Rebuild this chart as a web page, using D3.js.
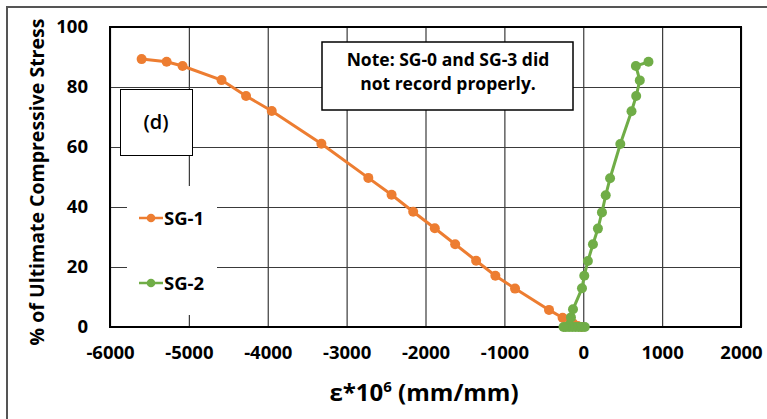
<html>
	<head>
		<title>strain vs stress</title>
		<script src="https://d3js.org/d3.v7.min.js"></script>
		<style>
			body{margin:0;background:#fff;}
			text{font-family:"Open Sans",sans-serif;fill:#000;}
			.tick text{font-size:18.5px;font-weight:700;}
			.grid line{stroke:#3a3a3a;stroke-width:1.2;}
			.axis-title{font-weight:700;}
		</style>
	</head>
	<body>
		<script>
		//chart data
		const xTicks = [-6000,-5000,-4000,-3000,-2000,-1000,0,1000,2000];
		const yTicks = [0,20,40,60,80,100];

		const sg1X = [-5599,-5282,-5080,-4586,-4275,-3949,-3320,-2725,-2430,-2156,-1882,-1624,-1358,-1114,-865,-434,-262,-130,-70,-20];
		const sg1Y = [89.3,88.4,87,82.3,77,72,61.1,49.7,44.1,38.4,32.9,27.6,22.1,17.1,12.8,5.7,3.1,1.2,0.3,0];

		const sg2X = [20,-20,-60,-100,-140,-180,-220,-250,-156,-130,-16,13,59,123,186,237,285,340,470,612,671,717,667,827];
		const sg2Y = [0,0,0,0,0,0,0,0,3.2,5.9,12.9,17.1,22,27.6,32.8,38.2,43.9,49.6,61,71.9,77,82.2,87,88.4];

		const seriesNames = ["SG-1","SG-2"];
		const colors = ["#ED7D31","#70AD47"];

		const w = 767;
		const h = 419;
		const plot = {left:110,right:741,top:27,bottom:327};

		let svg = d3.select("body").append("svg")
			.attr("width",w)
			.attr("height",h);

		//outer frame (runs off the picture at right and bottom)
		svg.append("rect")
			.attr("x",7).attr("y",7)
			.attr("width",800).attr("height",500)
			.attr("fill","#fff")
			.attr("stroke","#555")
			.attr("stroke-width",2);

		let xScale = d3.scaleLinear()
			.domain([-6000,2000])
			.range([plot.left,plot.right]);

		let yScale = d3.scaleLinear()
			.domain([0,100])
			.range([plot.bottom,plot.top]);

		//gridlines
		svg.append("g")
			.attr("class","grid")
			.attr("transform","translate(0,"+plot.bottom+")")
			.call(d3.axisBottom(xScale).tickValues(xTicks).tickSize(-(plot.bottom-plot.top)).tickFormat(""))
			.call(g=>g.select(".domain").remove());

		svg.append("g")
			.attr("class","grid")
			.attr("transform","translate("+plot.left+",0)")
			.call(d3.axisLeft(yScale).tickValues(yTicks).tickSize(-(plot.right-plot.left)).tickFormat(""))
			.call(g=>g.select(".domain").remove());

		//tick labels (plain hyphen minus, no thousands separator)
		svg.append("g")
			.attr("transform","translate(0,"+plot.bottom+")")
			.call(d3.axisBottom(xScale).tickValues(xTicks).tickSize(0).tickPadding(19).tickFormat(d=>String(d)))
			.call(g=>g.select(".domain").remove());

		svg.append("g")
			.attr("transform","translate("+plot.left+",0)")
			.call(d3.axisLeft(yScale).tickValues(yTicks).tickSize(0).tickPadding(22).tickFormat(d=>String(d)))
			.call(g=>g.select(".domain").remove());

		//plot frame
		svg.append("rect")
			.attr("x",plot.left).attr("y",plot.top)
			.attr("width",plot.right-plot.left)
			.attr("height",plot.bottom-plot.top)
			.attr("fill","none")
			.attr("stroke","#000")
			.attr("stroke-width",2);

		//legend background hides gridlines
		svg.append("rect")
			.attr("x",127).attr("y",186)
			.attr("width",90).attr("height",129)
			.attr("fill","#fff");

		//(d) label box
		svg.append("rect")
			.attr("x",120.5).attr("y",89.5)
			.attr("width",72).attr("height",66)
			.attr("fill","#fff")
			.attr("stroke","#000")
			.attr("stroke-width",1);
		svg.append("text")
			.attr("x",156).attr("y",129)
			.attr("text-anchor","middle")
			.attr("font-size",20)
			.attr("font-weight",600)
			.text("(d)");

		//note box
		svg.append("rect")
			.attr("x",322).attr("y",42)
			.attr("width",251).attr("height",68)
			.attr("fill","#fff")
			.attr("stroke","#000")
			.attr("stroke-width",1.5);
		let note = svg.append("text")
			.attr("text-anchor","middle")
			.attr("font-size",17.5)
			.attr("font-weight",700);
		note.append("tspan").attr("x",448).attr("y",66).text("Note: SG-0 and SG-3 did");
		note.append("tspan").attr("x",448).attr("y",90).text("not record properly.");

		//series
		const series = [
			sg1X.map((d,i)=>({x:d,y:sg1Y[i]})),
			sg2X.map((d,i)=>({x:d,y:sg2Y[i]}))
		];

		const line = d3.line()
			.x(d=>xScale(d.x))
			.y(d=>yScale(d.y));

		series.forEach(function(s,k){
			svg.append("path")
				.datum(s)
				.attr("d",line)
				.attr("fill","none")
				.attr("stroke",colors[k])
				.attr("stroke-width",3);
			svg.append("g")
				.selectAll("circle")
				.data(s)
				.enter()
				.append("circle")
				.attr("cx",d=>xScale(d.x))
				.attr("cy",d=>yScale(d.y))
				.attr("r",5)
				.attr("fill",colors[k]);
		});

		//legend
		const legendY = [218,283];
		seriesNames.forEach(function(name,k){
			svg.append("line")
				.attr("x1",139).attr("x2",163)
				.attr("y1",legendY[k]).attr("y2",legendY[k])
				.attr("stroke",colors[k])
				.attr("stroke-width",2.5);
			svg.append("circle")
				.attr("cx",151).attr("cy",legendY[k])
				.attr("r",4.3)
				.attr("fill",colors[k]);
			svg.append("text")
				.attr("x",164).attr("y",legendY[k]+6.5)
				.attr("font-size",18.5)
				.attr("font-weight",700)
				.text(name);
		});

		//axis titles
		svg.append("text")
			.attr("class","axis-title")
			.attr("transform","translate(44,182) rotate(-90)")
			.attr("text-anchor","middle")
			.attr("font-size",19.5)
			.attr("font-weight",600)
			.text("% of Ultimate Compressive Stress");

		let xt = svg.append("text")
			.attr("class","axis-title")
			.attr("x",424).attr("y",401)
			.attr("text-anchor","middle")
			.attr("font-size",24);
		xt.append("tspan").text("ε*10");
		xt.append("tspan").attr("dy",-9).attr("font-size",15).text("6");
		xt.append("tspan").attr("dy",9).text(" (mm/mm)");

		</script>
	</body>
</html>
